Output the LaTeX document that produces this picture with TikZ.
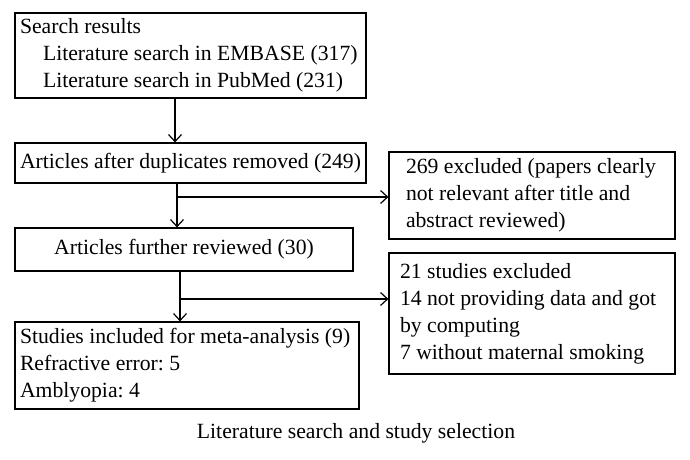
\documentclass[tikz,border=0pt]{standalone}
\usepackage{fontspec}
\setmainfont{Liberation Serif}
\frenchspacing
\usetikzlibrary{arrows.meta}

\begin{document}
\begin{tikzpicture}[x=1pt,y=1pt,
	box/.style={draw,line width=1.2pt,inner xsep=5pt,inner ysep=0pt,align=flush left,font=\fontsize{21.7}{27}\selectfont},
	arr/.style={line width=1.2pt,-{Straight Barb[length=7pt,width=13pt]}}]
	\useasboundingbox (0,0) rectangle (690,460);
	\node[box,text width=341pt,minimum height=85pt] (1) at (190.5,404.5) {Search results\\\hspace*{23pt}Literature search in EMBASE (317)\\\hspace*{23pt}Literature search in PubMed (231)};
	\node[box,text width=341pt,minimum height=40pt] (2) at (190.5,297) {Articles after duplicates removed (249)};
	\node[box,text width=328pt,minimum height=43pt,align=flush center] (3) at (184,210.5) {Articles further reviewed (30)};
	\node[box,text width=334pt,minimum height=87pt] (4) at (187,94.5) {Studies included for meta-analysis (9)\\Refractive error: 5\\Amblyopia: 4};
	\node[box,inner xsep=17pt,text width=252pt,minimum height=87pt] (5) at (532,264.5) {269 excluded (papers clearly\\not relevant after title and\\abstract reviewed)};
	\node[box,inner xsep=11pt,text width=264pt,minimum height=121pt] (6) at (532,146.5) {21 studies excluded\\14 not providing data and got\\by computing\\7 without maternal smoking};
	\node[font=\fontsize{21.7}{27}\selectfont,anchor=base,inner sep=0] (7) at (356,21) {Literature search and study selection};
	\coordinate (a) at (175,0);
	\coordinate (b) at (177,263);
	\coordinate (c) at (180,161);
	\draw[arr] (1.south -| a) -- (2.north -| a);
	\draw[arr] (2.south -| b) -- (3.north -| b);
	\draw[arr] (b) -- (b -| 5.west);
	\draw[arr] (3.south -| c) -- (4.north -| c);
	\draw[arr] (c) -- (c -| 6.west);
\end{tikzpicture}
\end{document}
